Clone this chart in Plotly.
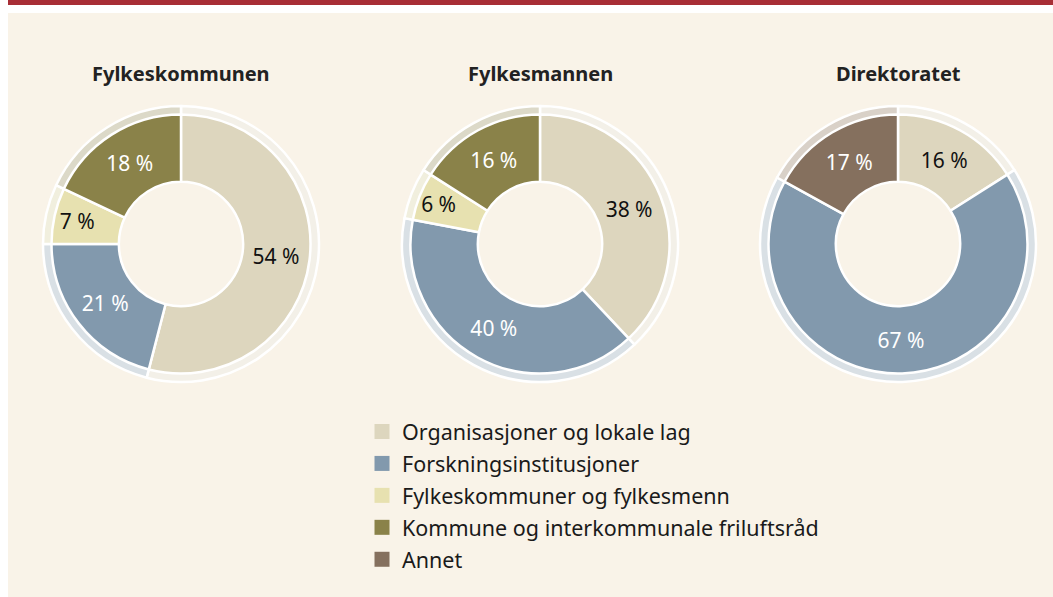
import plotly.graph_objects as go

# ---------------- data ----------------
categories = [
    "Organisasjoner og lokale lag",
    "Forskningsinstitusjoner",
    "Fylkeskommuner og fylkesmenn",
    "Kommune og interkommunale friluftsråd",
    "Annet",
]
chart_titles = ["Fylkeskommunen", "Fylkesmannen", "Direktoratet"]
fylkeskommunen = [54, 21, 7, 18, 0]
fylkesmannen = [38, 40, 6, 16, 0]
direktoratet = [16, 67, 0, 0, 17]
series = [fylkeskommunen, fylkesmannen, direktoratet]

# ---------------- style ----------------
W, H = 1053, 597
FONT = "Noto Sans"
colors = {
    categories[0]: "#ddd6be",
    categories[1]: "#8299ad",
    categories[2]: "#e7e1b0",
    categories[3]: "#8a8249",
    categories[4]: "#85705e",
}
halo_colors = {
    categories[0]: "#f3f0e8",
    categories[1]: "#d9e0e5",
    categories[2]: "#f1efde",
    categories[3]: "#dcd9c8",
    categories[4]: "#d9d1c8",
}
text_colors = {
    categories[0]: "#111111",
    categories[1]: "#ffffff",
    categories[2]: "#111111",
    categories[3]: "#ffffff",
    categories[4]: "#ffffff",
}
centers_x = [181, 540, 898]
center_y = 244
R = 129.5
R_HALO = 138
HOLE = 0.48


def domain(cx, cy, r):
    return dict(
        x=[(cx - r) / W, (cx + r) / W],
        y=[1 - (cy + r) / H, 1 - (cy - r) / H],
    )


fig = go.Figure()

for i, vals in enumerate(series):
    labs = [c for c, v in zip(categories, vals) if v > 0]
    vs = [v for v in vals if v > 0]
    cx = centers_x[i]
    # halo ring behind
    fig.add_trace(go.Pie(
        labels=labs, values=vs, sort=False, direction="clockwise",
        hole=0.88, domain=domain(cx, center_y, R_HALO),
        marker=dict(colors=[halo_colors[l] for l in labs],
                    line=dict(color="#ffffff", width=2.5)),
        textinfo="none", hoverinfo="skip", showlegend=False,
    ))
    # main donut
    fig.add_trace(go.Pie(
        labels=labs, values=vs, sort=False, direction="clockwise",
        hole=HOLE, domain=domain(cx, center_y, R),
        marker=dict(colors=[colors[l] for l in labs],
                    line=dict(color="#ffffff", width=2.5)),
        texttemplate="%{value} %", textposition="inside",
        insidetextorientation="horizontal",
        insidetextfont=dict(family=FONT, size=21,
                            color=[text_colors[l] for l in labs]),
        showlegend=False,
    ))
    fig.add_annotation(
        x=cx / W, y=1 - 73 / H, xref="paper", yref="paper",
        text="<b>%s</b>" % chart_titles[i], showarrow=False,
        font=dict(family=FONT, size=20, color="#222222"),
        xanchor="center", yanchor="middle",
    )

# legend entries (square markers)
for k, cat in enumerate(categories):
    fig.add_trace(go.Scatter(
        x=[None], y=[None], mode="markers", name=cat,
        marker=dict(symbol="square", size=15, color=colors[cat]),
        legendgroup="g%d" % k, showlegend=True, hoverinfo="skip",
    ))

# background panel and red top bar
fig.add_shape(type="rect", xref="paper", yref="paper",
              x0=8 / W, x1=1, y0=0, y1=1 - 13 / H,
              fillcolor="#f9f3e8", line_width=0, layer="below")
fig.add_shape(type="rect", xref="paper", yref="paper",
              x0=8 / W, x1=1, y0=1 - 5 / H, y1=1,
              fillcolor="#a82e36", line_width=0, layer="below")

fig.update_layout(
    width=W, height=H,
    margin=dict(l=0, r=0, t=0, b=0),
    paper_bgcolor="#ffffff", plot_bgcolor="rgba(0,0,0,0)",
    xaxis=dict(visible=False), yaxis=dict(visible=False),
    uniformtext=dict(minsize=21, mode="show"),
    legend=dict(
        x=362 / W, y=1 - 411 / H, xanchor="left", yanchor="top",
        font=dict(family=FONT, size=21.5, color="#1a1a1a"),
        bgcolor="rgba(0,0,0,0)", traceorder="grouped", tracegroupgap=1,
        itemwidth=30,
    ),
)

fig.write_html(
    "out.html",
    config={"displayModeBar": False},
    post_script="document.body.style.margin='0';document.body.style.overflow='hidden';",
)
